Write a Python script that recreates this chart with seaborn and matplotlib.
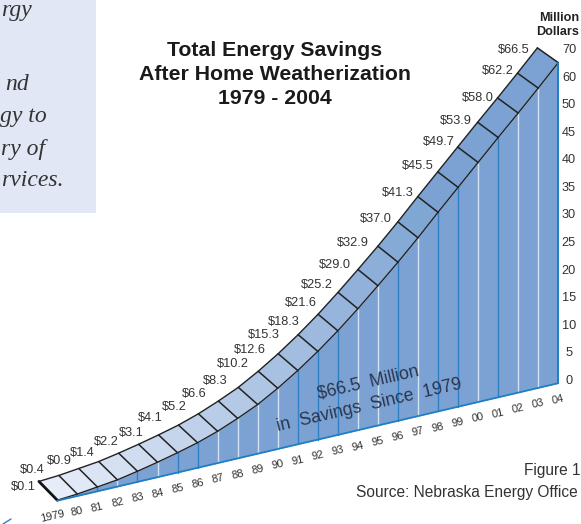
import numpy as np
import pandas as pd
import seaborn as sns
import matplotlib.pyplot as plt
from matplotlib.patches import Rectangle

# ---------- data ---------- #
years = ['1979', '80', '81', '82', '83', '84', '85', '86', '87', '88', '89', '90', '91',
         '92', '93', '94', '95', '96', '97', '98', '99', '00', '01', '02', '03', '04']
savings = [0.1, 0.4, 0.9, 1.4, 2.2, 3.1, 4.1, 5.2, 6.6, 8.3, 10.2, 12.6, 15.3,
           18.3, 21.6, 25.2, 29.0, 32.9, 37.0, 41.3, 45.5, 49.7, 53.9, 58.0, 62.2, 66.5]
axis_labels = ['70', '60', '50', '45', '40', '35', '30', '25', '20', '15', '10', '5', '0']
title_lines = ['Total Energy Savings', 'After Home Weatherization', '1979 - 2004']
quote_words = ['rgy', 'nd', 'gy to', 'ry of', 'rvices.']

# ---------- layout (pixels) ---------- #
X0, Y0 = 57.3, 500.7      # front corner of 1979
STEP_X, STEP_Y = 20.04, -4.7
PX_PER_UNIT = 4.82
label_right = [36, 45, 72, 95, 119, 144, 163, 187, 207, 228, 249, 266, 280,
               300, 317, 333, 351, 369, 392, 414, 434, 455, 472, 494, 514, 530]
label_y = [487, 470, 461, 453, 442, 433, 418, 407, 394, 381, 364, 350, 335,
           322, 303, 285, 265, 243, 219, 193, 166, 142, 121, 98, 71, 50]
# wall dividers: L = pale, B = saturated (1980..2003)
divider_kind = 'LBLBLBBLLLLBBBLLBLBBLBLL'

sns.set_theme(style='white')
plt.rcParams['font.family'] = ['Liberation Sans', 'DejaVu Sans']

fig = plt.figure(figsize=(5.81, 5.24), dpi=100)
ax = fig.add_axes([0, 0, 1, 1])
ax.set_xlim(0, 581)
ax.set_ylim(524, 0)
ax.axis('off')

idx = np.arange(len(savings))
vals = np.array(savings)
base_x = X0 + STEP_X * idx
base_y = Y0 + STEP_Y * idx
front_y = base_y - vals * PX_PER_UNIT
back_x = base_x - 18.4 - 0.1 * idx
back_y = front_y - 18.8 + 0.16 * idx

# side panel with the clipped quote
ax.add_patch(Rectangle((0, 0), 96, 213, fc='#e1e7f4', ec='none', zorder=0))
for word, left, y in zip(quote_words, [1, 5, 0, 1, 1], [16, 90, 122, 155, 186]):
    ax.text(left, y, word, ha='left', va='baseline', fontsize=17, style='italic',
            family='Liberation Serif', color='#333333')

# wall
ax.fill_between(base_x, base_y, front_y, color='#7ba2d2', lw=0, zorder=1)
for i, kind in zip(idx[1:-1], divider_kind):
    ax.plot([base_x[i]] * 2, [base_y[i], front_y[i]], lw=1.0, zorder=2,
            color='#d3e2f3' if kind == 'L' else '#2f80c6')

# ribbon on top, pale at the start and wall colour from about 1998
ramp = sns.blend_palette(['#e6ecf8', '#7ba2d2'], 20)
for i in idx[:-1]:
    ax.fill([back_x[i], back_x[i + 1], base_x[i + 1], base_x[i]],
            [back_y[i], back_y[i + 1], front_y[i + 1], front_y[i]],
            color=ramp[min(i, 19)], lw=0, zorder=3)
for i in idx[1:]:
    ax.plot([back_x[i], base_x[i]], [back_y[i], front_y[i]], color='#222222', lw=1.1, zorder=4)
ax.plot([back_x[0], base_x[0]], [back_y[0], front_y[0]], color='#111111', lw=2, zorder=4)

edges = pd.DataFrame({'x': np.r_[back_x, base_x], 'y': np.r_[back_y, front_y],
                      'edge': ['back'] * len(idx) + ['front'] * len(idx)})
sns.lineplot(data=edges, x='x', y='y', units='edge', estimator=None, sort=False,
             color='#222222', lw=1.0, ax=ax, zorder=4)
ax.set_xlim(0, 581)
ax.set_ylim(524, 0)

# baseline and right hand axis edge
ax.plot(base_x, base_y, color='#1f7fc4', lw=1.3, zorder=5)
ax.plot([base_x[-1]] * 2, [base_y[-1], front_y[-1]], color='#1f7fc4', lw=1.4, zorder=5)

# value labels
for v, r, y in zip(savings, label_right, label_y):
    ax.text(r, y, f'${v:.1f}', ha='right', va='center', fontsize=9.2, color='#333333', zorder=6,
            parse_math=False)

# year labels along the base
for i, lab in enumerate(years):
    shift = -5 if i == 0 else 0
    ax.text(base_x[i] + shift, base_y[i] + 16, lab, ha='center', va='center', fontsize=8,
            rotation=13, rotation_mode='anchor', color='#333333', zorder=6)

# scale on the right
for lab, y in zip(axis_labels, np.linspace(50, 381, len(axis_labels))):
    ax.text(569, y, lab, ha='center', va='center', fontsize=9.2, color='#333333')
ax.text(579, 18, 'Million', ha='right', va='center', fontsize=9.1, fontweight='bold', color='#222222')
ax.text(579, 32, 'Dollars', ha='right', va='center', fontsize=9.1, fontweight='bold', color='#222222')

# title
for line, y in zip(title_lines, [51, 75, 99]):
    ax.text(275, y, line, ha='center', va='center', fontsize=15.3, fontweight='bold', color='#1a1a1a')

# text on the wall
ax.text(368, 382, '$66.5  Million', ha='center', va='center', fontsize=12.7, rotation=13,
        rotation_mode='anchor', color='#2a3550', zorder=6, parse_math=False)
ax.text(369, 405, 'in  Savings  Since  1979', ha='center', va='center', fontsize=12.7, rotation=13,
        rotation_mode='anchor', color='#2a3550', zorder=6)

# footer
ax.text(580.5, 471, 'Figure 1', ha='right', va='center', fontsize=11.2, color='#333333')
ax.text(356, 493, 'Source: Nebraska Energy Office', ha='left', va='center', fontsize=11.2, color='#333333')

# stray tick bottom left, cut by the page edge
ax.plot([3, 11], [524, 519], color='#2f80c6', lw=1.0)

fig.savefig('out.png', dpi=100)
